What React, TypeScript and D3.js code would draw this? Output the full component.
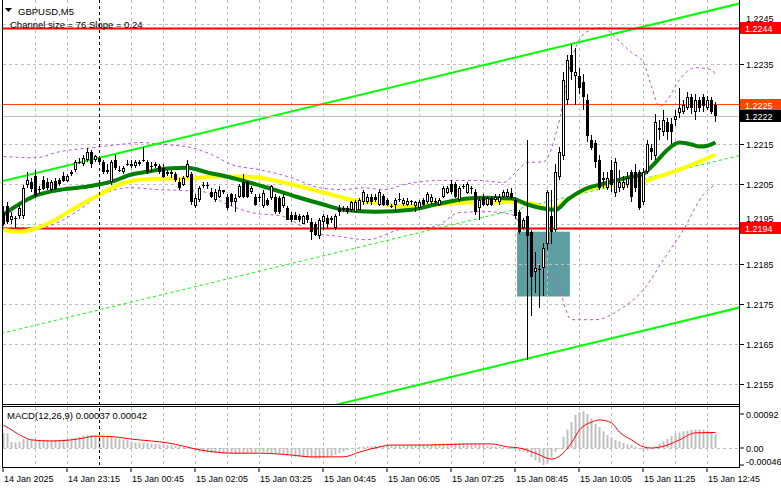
import * as d3 from 'd3'
import * as React from 'react'

// GBPUSD M5 bars, [open, high, low, close]
const candles: number[][] = [
  [1.21982, 1.21995, 1.21947, 1.21952], [1.21995, 1.22005, 1.21950, 1.21957], [1.21962, 1.21982, 1.21952, 1.21972],
  [1.21967, 1.21972, 1.21942, 1.21965], [1.21970, 1.22000, 1.21965, 1.21992], [1.21970, 1.22050, 1.21965, 1.22042],
  [1.22050, 1.22082, 1.22042, 1.22062], [1.22057, 1.22067, 1.22032, 1.22040], [1.22072, 1.22087, 1.22017, 1.22022],
  [1.22040, 1.22047, 1.22027, 1.22037], [1.22062, 1.22072, 1.22035, 1.22040], [1.22055, 1.22065, 1.22037, 1.22042],
  [1.22037, 1.22062, 1.22032, 1.22055], [1.22060, 1.22067, 1.22035, 1.22040], [1.22062, 1.22067, 1.22047, 1.22052],
  [1.22072, 1.22082, 1.22055, 1.22060], [1.22060, 1.22077, 1.22055, 1.22072], [1.22077, 1.22087, 1.22072, 1.22080],
  [1.22087, 1.22112, 1.22082, 1.22105], [1.22105, 1.22117, 1.22100, 1.22107], [1.22100, 1.22125, 1.22095, 1.22117],
  [1.22112, 1.22142, 1.22107, 1.22132], [1.22130, 1.22137, 1.22092, 1.22100], [1.22110, 1.22125, 1.22105, 1.22120],
  [1.22117, 1.22122, 1.22100, 1.22105], [1.22105, 1.22112, 1.22075, 1.22080], [1.22082, 1.22100, 1.22075, 1.22085],
  [1.22057, 1.22112, 1.22050, 1.22105], [1.22112, 1.22125, 1.22087, 1.22092], [1.22087, 1.22095, 1.22080, 1.22085],
  [1.22082, 1.22097, 1.22077, 1.22090], [1.22102, 1.22112, 1.22095, 1.22100], [1.22102, 1.22110, 1.22092, 1.22097],
  [1.22095, 1.22112, 1.22090, 1.22105], [1.22100, 1.22112, 1.22095, 1.22107], [1.22110, 1.22145, 1.22105, 1.22112],
  [1.22105, 1.22112, 1.22075, 1.22080], [1.22097, 1.22107, 1.22080, 1.22095], [1.22100, 1.22107, 1.22092, 1.22097],
  [1.22095, 1.22102, 1.22077, 1.22082], [1.22092, 1.22100, 1.22065, 1.22070], [1.22080, 1.22087, 1.22072, 1.22077],
  [1.22080, 1.22087, 1.22067, 1.22075], [1.22075, 1.22082, 1.22057, 1.22062], [1.22057, 1.22067, 1.22037, 1.22042],
  [1.22050, 1.22072, 1.22045, 1.22065], [1.22070, 1.22112, 1.22065, 1.22100], [1.22075, 1.22082, 1.22000, 1.22005],
  [1.21995, 1.22025, 1.21990, 1.22017], [1.22012, 1.22047, 1.22007, 1.22042], [1.22047, 1.22057, 1.22042, 1.22050],
  [1.22050, 1.22055, 1.22040, 1.22048], [1.22032, 1.22042, 1.22015, 1.22020], [1.22012, 1.22040, 1.22007, 1.22032],
  [1.22020, 1.22045, 1.22015, 1.22037], [1.22035, 1.22037, 1.22025, 1.22032], [1.22020, 1.22027, 1.21987, 1.21992],
  [1.22025, 1.22030, 1.21997, 1.22005], [1.22005, 1.22025, 1.21982, 1.22017], [1.22020, 1.22052, 1.22015, 1.22045],
  [1.22057, 1.22075, 1.22015, 1.22020], [1.22055, 1.22060, 1.22015, 1.22020], [1.22032, 1.22047, 1.22027, 1.22042],
  [1.22020, 1.22027, 1.21995, 1.22000], [1.22020, 1.22025, 1.22005, 1.22017], [1.21995, 1.22037, 1.21990, 1.22030],
  [1.22012, 1.22017, 1.21995, 1.22000], [1.22017, 1.22050, 1.22012, 1.22045], [1.22020, 1.22025, 1.21977, 1.21982],
  [1.22017, 1.22022, 1.21977, 1.21982], [1.21995, 1.22025, 1.21990, 1.22020], [1.21992, 1.21997, 1.21960, 1.21962],
  [1.21975, 1.21980, 1.21957, 1.21962], [1.21975, 1.21980, 1.21960, 1.21962], [1.21972, 1.21977, 1.21957, 1.21960],
  [1.21952, 1.21975, 1.21950, 1.21970], [1.21975, 1.21980, 1.21955, 1.21960], [1.21957, 1.21967, 1.21912, 1.21932],
  [1.21950, 1.21957, 1.21920, 1.21925], [1.21920, 1.21967, 1.21915, 1.21962], [1.21957, 1.21977, 1.21937, 1.21970],
  [1.21967, 1.21975, 1.21942, 1.21950], [1.21967, 1.21972, 1.21955, 1.21960], [1.21942, 1.21977, 1.21937, 1.21970],
  [1.21992, 1.22000, 1.21972, 1.21980], [1.21992, 1.21997, 1.21980, 1.21985], [1.21992, 1.21997, 1.21977, 1.21980],
  [1.21987, 1.22010, 1.21982, 1.22005], [1.21982, 1.22012, 1.21980, 1.22007], [1.21987, 1.22017, 1.21985, 1.22012],
  [1.22005, 1.22037, 1.22000, 1.22032], [1.22005, 1.22025, 1.22002, 1.22020], [1.22020, 1.22025, 1.22000, 1.22005],
  [1.22020, 1.22025, 1.22007, 1.22012], [1.22000, 1.22037, 1.21995, 1.22032], [1.22022, 1.22027, 1.21995, 1.22000],
  [1.22012, 1.22017, 1.21995, 1.22000], [1.21997, 1.22002, 1.21992, 1.21995], [1.22000, 1.22017, 1.21982, 1.22012],
  [1.22012, 1.22030, 1.22007, 1.22013], [1.22002, 1.22017, 1.21997, 1.22012], [1.22000, 1.22015, 1.21995, 1.22010],
  [1.22007, 1.22012, 1.22000, 1.22008], [1.21997, 1.22010, 1.21982, 1.22005], [1.21992, 1.22012, 1.21987, 1.22007],
  [1.22012, 1.22017, 1.21995, 1.22000], [1.22007, 1.22032, 1.22002, 1.22025], [1.22005, 1.22025, 1.22000, 1.22020],
  [1.22007, 1.22015, 1.22000, 1.22008], [1.22000, 1.22017, 1.21995, 1.22012], [1.22020, 1.22047, 1.22015, 1.22042],
  [1.22030, 1.22047, 1.22025, 1.22042], [1.22052, 1.22062, 1.22027, 1.22032], [1.22052, 1.22057, 1.22015, 1.22020],
  [1.22012, 1.22047, 1.22007, 1.22042], [1.22047, 1.22052, 1.22040, 1.22046], [1.22030, 1.22057, 1.22025, 1.22052],
  [1.22042, 1.22047, 1.22027, 1.22041], [1.22032, 1.22040, 1.21975, 1.21980], [1.21992, 1.22020, 1.21962, 1.22012],
  [1.22020, 1.22025, 1.21995, 1.22000], [1.22000, 1.22022, 1.21995, 1.22017], [1.22017, 1.22022, 1.21995, 1.22000],
  [1.22012, 1.22025, 1.22007, 1.22020], [1.22005, 1.22025, 1.22000, 1.22020], [1.22020, 1.22037, 1.22015, 1.22032],
  [1.22020, 1.22040, 1.22015, 1.22032], [1.22030, 1.22042, 1.22012, 1.22017], [1.22012, 1.22020, 1.21965, 1.21970],
  [1.21982, 1.21987, 1.21927, 1.21932], [1.21942, 1.21967, 1.21937, 1.21962], [1.21970, 1.22162, 1.21612, 1.21920],
  [1.21932, 1.21937, 1.21720, 1.21820], [1.21832, 1.21880, 1.21780, 1.21842], [1.21837, 1.21850, 1.21742, 1.21839],
  [1.21842, 1.21905, 1.21770, 1.21892], [1.21900, 1.22037, 1.21887, 1.22032], [1.21970, 1.22037, 1.21900, 1.21932],
  [1.21937, 1.22100, 1.21932, 1.22082], [1.22070, 1.22145, 1.22062, 1.22132], [1.22120, 1.22332, 1.22112, 1.22312],
  [1.22262, 1.22375, 1.22250, 1.22362], [1.22375, 1.22400, 1.22312, 1.22330], [1.22320, 1.22392, 1.22250, 1.22332],
  [1.22320, 1.22342, 1.22275, 1.22292], [1.22305, 1.22325, 1.22237, 1.22270], [1.22262, 1.22275, 1.22157, 1.22170],
  [1.22162, 1.22175, 1.22137, 1.22142], [1.22155, 1.22162, 1.22092, 1.22105], [1.22112, 1.22125, 1.22037, 1.22042],
  [1.22067, 1.22082, 1.22042, 1.22062], [1.22042, 1.22082, 1.22037, 1.22067], [1.22087, 1.22112, 1.22032, 1.22050],
  [1.22030, 1.22117, 1.22020, 1.22105], [1.22042, 1.22087, 1.22032, 1.22055], [1.22042, 1.22072, 1.22037, 1.22055],
  [1.22050, 1.22082, 1.22042, 1.22067], [1.22080, 1.22087, 1.22005, 1.22020], [1.22082, 1.22100, 1.22032, 1.22042],
  [1.22080, 1.22087, 1.21987, 1.21992], [1.22005, 1.22092, 1.22000, 1.22080], [1.22080, 1.22162, 1.22075, 1.22150],
  [1.22142, 1.22150, 1.22112, 1.22130], [1.22120, 1.22225, 1.22112, 1.22205], [1.22187, 1.22212, 1.22162, 1.22192],
  [1.22180, 1.22237, 1.22170, 1.22212], [1.22205, 1.22217, 1.22162, 1.22180], [1.22200, 1.22217, 1.22150, 1.22182],
  [1.22212, 1.22237, 1.22195, 1.22220], [1.22230, 1.22292, 1.22217, 1.22242], [1.22232, 1.22262, 1.22225, 1.22250],
  [1.22242, 1.22280, 1.22237, 1.22270], [1.22270, 1.22275, 1.22225, 1.22242], [1.22232, 1.22275, 1.22212, 1.22262],
  [1.22262, 1.22270, 1.22232, 1.22242], [1.22270, 1.22277, 1.22232, 1.22245], [1.22242, 1.22272, 1.22237, 1.22262],
  [1.22262, 1.22270, 1.22225, 1.22232], [1.22250, 1.22255, 1.22207, 1.22220],
]

// moving averages and bands, [bar, price]
const greenMa: number[][] = [
  [0, 1.21975], [8, 1.22022], [13, 1.22035], [21, 1.22045], [27, 1.22057], [32, 1.22075], [36, 1.22082],
  [41, 1.2209], [46, 1.22092], [51, 1.2208], [57, 1.22067], [65, 1.22045], [73, 1.2202], [80, 1.22],
  [85, 1.21987], [93, 1.21982], [102, 1.21987], [108, 1.22], [116, 1.22015], [120, 1.22017], [127, 1.22015],
  [131, 1.22], [135, 1.2199], [138, 1.21987], [141, 1.22012], [145, 1.22037], [150, 1.22052], [156, 1.22067],
  [160, 1.22077], [163, 1.22105], [166, 1.22137], [169, 1.22155], [172, 1.2215], [174, 1.22145], [176, 1.22147],
  [178, 1.22155],
]
const yellowMa: number[][] = [
  [0, 1.21937], [4, 1.21932], [8, 1.2194], [13, 1.21962], [18, 1.21992], [24, 1.22025], [29, 1.2205],
  [34, 1.22062], [41, 1.22065], [46, 1.22065], [53, 1.2207], [59, 1.2207], [64, 1.22067], [70, 1.22055],
  [80, 1.2203], [87, 1.22012], [93, 1.22005], [100, 1.21995], [108, 1.22], [116, 1.22005], [123, 1.22005],
  [128, 1.22007], [133, 1.22], [136, 1.2199], [138, 1.21995], [144, 1.2203], [150, 1.22047], [155, 1.2205],
  [160, 1.22057], [163, 1.22067], [169, 1.22087], [174, 1.22107], [178, 1.22125],
]
const bandUpper: number[][] = [
  [0, 1.2212], [8, 1.22117], [14, 1.22132], [22, 1.22142], [29, 1.2215], [34, 1.22155], [40, 1.2215],
  [47, 1.22142], [52, 1.22125], [57, 1.221], [64, 1.22087], [72, 1.22067], [79, 1.22042], [85, 1.22037],
  [90, 1.22042], [95, 1.22037], [101, 1.22052], [109, 1.2206], [119, 1.2206], [125, 1.22055], [128, 1.2208],
  [131, 1.22105], [135, 1.22107], [139, 1.22212], [142, 1.22362], [144, 1.22412], [147, 1.22437], [150, 1.22442],
  [153, 1.22417], [157, 1.2238], [160, 1.22355], [162, 1.22295], [164, 1.22245], [166, 1.22262], [169, 1.22312],
  [173, 1.22342], [177, 1.22337], [178, 1.22325],
]
const bandLower: number[][] = [
  [0, 1.21942], [9, 1.21942], [14, 1.21957], [19, 1.21987], [24, 1.22022], [32, 1.22042], [39, 1.22037],
  [45, 1.22035], [50, 1.22032], [55, 1.22005], [62, 1.2198], [70, 1.2197], [77, 1.21932], [84, 1.2192],
  [91, 1.21912], [99, 1.21937], [108, 1.21945], [114, 1.2198], [121, 1.21982], [127, 1.21975], [130, 1.21937],
  [134, 1.21837], [138, 1.21812], [142, 1.21712], [148, 1.21712], [154, 1.21737], [160, 1.21787], [165, 1.21862],
  [170, 1.21937], [175, 1.22025], [178, 1.2205],
]

// MACD(12,26,9) histogram per bar and signal line
const macdHist: number[] = [
  41, 40, 16, 15, 17, 24, 24, 23, 21, 22, 22, 21, 21, 22, 22, 23, 24, 26, 27, 30,
  33, 35, 35, 34, 33, 31, 30, 29, 27, 25, 23, 21, 18, 15, 14, 14, 13, 12, 11, 10,
  9, 8, 7, 6, 5, 3, 1, -3, -8, -11, -12, -12, -13, -14, -14, -15, -15, -15, -16, -16,
  -15, -14, -13, -12, -10, -11, -12, -13, -14, -15, -16, -20, -22, -24, -24, -25, -26, -28, -29, -28,
  -27, -25, -22, -18, -14, -10, -6, -2, 1, 3, 4, 5, 5, 6, 6, 7, 7, 8, 8, 8,
  8, 8, 9, 9, 9, 10, 10, 10, 11, 11, 12, 12, 12, 13, 13, 12, 12, 11, 10, 9,
  8, 6, 5, 4, 3, 2, 0, -2, -4, -8, -10, -14, -25, -33, -40, -46, -42, -25, -10, -2,
  30, 50, 70, 90, 97, 100, 92, 80, 65, 57, 45, 35, 28, 22, 18, 14, 10, 8, 3, -3,
  -8, -6, -2, 5, 12, 18, 25, 32, 38, 42, 45, 47, 49, 50, 50, 50, 48, 42, 37,
].map(v => v / 100000)
const macdSignal: number[][] = [
  [0, 62], [2, 49], [5, 30], [7, 22], [12, 19], [17, 22], [20, 27], [23, 32], [28, 30], [32, 24], [37, 19],
  [41, 14], [45, 5], [49, -5], [53, -11], [57, -14], [64, -14], [72, -19], [77, -24], [85, -24], [89, -11],
  [94, 3], [97, 8], [106, 8], [116, 11], [122, 11], [126, 3], [129, 0], [133, -14], [137, -30], [139, -22],
  [142, 14], [144, 49], [147, 70], [149, 76], [152, 68], [154, 43], [157, 22], [160, 3], [162, 0], [166, 8],
  [169, 22], [173, 41], [178, 42],
].map(([b, v]) => [b, v / 100000])

const priceTicks = [1.2245, 1.2235, 1.2225, 1.2215, 1.2205, 1.2195, 1.2185, 1.2175, 1.2165, 1.2155]
const macdTicks = [0.00092, 0, -0.00046]
const macdTickLabels = ['0.00092', '0.00', '-0.00046']
const timeLabels = [
  '14 Jan 2025', '14 Jan 23:15', '15 Jan 00:45', '15 Jan 02:05', '15 Jan 03:25', '15 Jan 04:45',
  '15 Jan 06:05', '15 Jan 07:25', '15 Jan 08:45', '15 Jan 10:05', '15 Jan 11:25', '15 Jan 12:45',
]
const timeLabelBars = [0, 16, 32, 48, 64, 80, 96, 112, 128, 144, 160, 176]
const daySeparatorBar = 24

// horizontal levels: price, colour, line width, label box colour
const levels = [
  { price: 1.2244, color: '#ff0000', width: 2, box: '#ff0000' },
  { price: 1.2225, color: '#ff4500', width: 1, box: '#ff4500' },
  { price: 1.2222, color: '#c0c0c0', width: 1, box: '#000000' },
  { price: 1.2194, color: '#ff0000', width: 2, box: '#ff0000' },
]
// regression channel: upper line anchors and channel size
const channelUpper = [[0, 1.22059], [178, 1.22488]]
const channelSize = 0.0076
// shaded zone: bar range and price range
const zone = { from: 128.4, to: 141.6, top: 1.21932, bottom: 1.2177 }

const FONT = '"Liberation Sans", Arial, sans-serif'

export default function App() {
  const x = d3.scaleLinear().domain([0, 178]).range([3.5, 715.5])
  const y = d3.scaleLinear().domain([1.2155, 1.2245]).range([384.5, 24.5])
  const my = d3.scaleLinear().domain([-0.00046, 0.00092]).range([465, 414])

  const lineP = d3.line<number[]>().x(d => x(d[0])).y(d => y(d[1])).curve(d3.curveMonotoneX)
  const lineM = d3.line<number[]>().x(d => x(d[0])).y(d => my(d[1])).curve(d3.curveMonotoneX)

  const slope = (channelUpper[1][1] - channelUpper[0][1]) / (channelUpper[1][0] - channelUpper[0][0])
  const chan = (b: number, off: number) => channelUpper[0][1] + slope * (b - channelUpper[0][0]) - off
  const bL = -2, bR = 186

  const gridBars = d3.range(8, 180, 8).filter(b => b !== daySeparatorBar)
  const boxY = (p: number) => Math.round(y(p)) - 6

  // tick labels sitting under a level box are nudged just above it; fully covered ones stay hidden
  const tickLabelY = (p: number) => {
    const ty = y(p) + 3.5
    const hit = levels.find(l => Math.abs(y(l.price) - y(p)) < 12)
    if (!hit) return { ty, show: true }
    if (Math.abs(hit.price - p) < 0.00005) return { ty, show: false }
    return { ty: boxY(hit.price) - 0.5, show: true }
  }

  return (
    <div style={{ position: 'fixed', left: 0, top: 0 }}>
      <svg width={781} height={489} style={{ display: 'block', background: '#fff' }}>
        <defs>
          <clipPath id="main"><rect x={3} y={0} width={736} height={404} /></clipPath>
          <clipPath id="sub"><rect x={3} y={407} width={736} height={60} /></clipPath>
        </defs>

        <g clipPath="url(#main)">
          <rect x={x(zone.from)} y={y(zone.top)} width={x(zone.to) - x(zone.from)}
            height={y(zone.bottom) - y(zone.top)} fill="#5f9ea0" />
          {priceTicks.map(p => (
            <line key={p} x1={3} x2={739} y1={y(p)} y2={y(p)} stroke="#c0c0c0" strokeDasharray="3,3" />
          ))}
          {gridBars.map(b => (
            <line key={b} x1={x(b)} x2={x(b)} y1={0} y2={404} stroke="#c0c0c0" strokeDasharray="3,3" />
          ))}
          <path d={lineP(bandUpper)!} fill="none" stroke="#ba55d3" strokeDasharray="3,3" />
          <path d={lineP(bandLower)!} fill="none" stroke="#ba55d3" strokeDasharray="3,3" />
          <line x1={x(bL)} x2={x(bR)} y1={y(chan(bL, 0))} y2={y(chan(bR, 0))} stroke="#00ff00" strokeWidth={2} />
          <line x1={x(bL)} x2={x(bR)} y1={y(chan(bL, channelSize / 2))} y2={y(chan(bR, channelSize / 2))}
            stroke="#00ff00" strokeDasharray="3,3" />
          <line x1={x(bL)} x2={x(bR)} y1={y(chan(bL, channelSize))} y2={y(chan(bR, channelSize))} stroke="#00ff00" strokeWidth={2} />
          {levels.map(l => (
            <line key={l.price} x1={3} x2={739} y1={y(l.price)} y2={y(l.price)} stroke={l.color} strokeWidth={l.width} />
          ))}
          <path d={lineP(yellowMa)!} fill="none" stroke="#ffff00" strokeWidth={4} />
          <path d={lineP(greenMa)!} fill="none" stroke="#008000" strokeWidth={4} />
          {candles.map(([o, h, l, c], i) => {
            const cx = x(i)
            const top = Math.round(y(Math.max(o, c)))
            const bot = Math.round(y(Math.min(o, c)))
            const up = c > o
            return (
              <g key={i}>
                <line x1={cx} x2={cx} y1={Math.round(y(h))} y2={Math.round(y(l))} stroke="#000" />
                {bot - top < 2
                  ? <line x1={cx - 1.5} x2={cx + 1.5} y1={top + 0.5} y2={top + 0.5} stroke="#000" />
                  : up
                    ? <rect x={cx - 1} y={top + 0.5} width={2} height={bot - top - 1} fill="#fff" stroke="#000" />
                    : <rect x={cx - 1.5} y={top} width={3} height={bot - top} fill="#000" />}
              </g>
            )
          })}
        </g>

        <g clipPath="url(#sub)">
          {gridBars.map(b => (
            <line key={b} x1={x(b)} x2={x(b)} y1={407} y2={467} stroke="#c0c0c0" strokeDasharray="3,3" />
          ))}
          <line x1={3} x2={739} y1={Math.round(my(0)) + 0.5} y2={Math.round(my(0)) + 0.5} stroke="#c0c0c0" strokeDasharray="3,3" />
          {macdHist.map((v, i) => (
            <rect key={i} x={x(i) - 1} width={2} y={Math.min(my(v), my(0))}
              height={Math.max(1, Math.abs(my(v) - my(0)))} fill="#c0c0c0" />
          ))}
          <path d={lineM(macdSignal)!} fill="none" stroke="#ff0000" />
        </g>

        {/* day separator */}
        <line x1={x(daySeparatorBar)} x2={x(daySeparatorBar)} y1={0} y2={467} stroke="#000" strokeDasharray="3,3" />

        {/* frames */}
        <line x1={2.5} x2={2.5} y1={0} y2={467.5} stroke="#000" />
        <line x1={739.5} x2={739.5} y1={0} y2={467.5} stroke="#000" />
        <line x1={2} x2={740} y1={404.5} y2={404.5} stroke="#000" />
        <line x1={2} x2={740} y1={406.5} y2={406.5} stroke="#000" />
        <line x1={2} x2={740} y1={467.5} y2={467.5} stroke="#000" />

        {/* price axis */}
        {priceTicks.map(p => {
          const { ty, show } = tickLabelY(p)
          return (
            <g key={p}>
              <line x1={740} x2={744} y1={y(p)} y2={y(p)} stroke="#000" />
              {show && <text x={746} y={ty} fontFamily={FONT} fontSize={9} fill="#000">{p.toFixed(4)}</text>}
            </g>
          )
        })}
        {levels.map(l => (
          <g key={l.price}>
            <rect x={740} y={boxY(l.price)} width={41} height={12} fill={l.box} />
            <text x={745} y={Math.round(y(l.price)) + 3.5} fontFamily={FONT} fontSize={9} fill="#fff">{l.price.toFixed(4)}</text>
          </g>
        ))}

        {/* macd axis */}
        {macdTicks.map((v, i) => (
          <g key={v}>
            <line x1={740} x2={744} y1={my(v)} y2={my(v)} stroke="#000" />
            <text x={746} y={my(v) + (i === 2 ? 0 : 3.5)} fontFamily={FONT} fontSize={9} fill="#000">{macdTickLabels[i]}</text>
          </g>
        ))}

        {/* time axis */}
        {timeLabels.map((t, i) => {
          const tx = x(timeLabelBars[i]) - 0.5
          return (
            <g key={t}>
              <line x1={tx} x2={tx} y1={468} y2={472} stroke="#000" />
              <text x={tx + 1} y={482} fontFamily={FONT} fontSize={9} fill="#000">{t}</text>
            </g>
          )
        })}

        {/* captions */}
        <path d="M5,8 L12,8 L8.5,12 Z" fill="#000" />
        <text x={18} y={15} fontFamily={FONT} fontSize={9.5} fill="#000">GBPUSD,M5</text>
        <text x={10} y={28} fontFamily={FONT} fontSize={9.5} fill="#000">Channel size = 76 Slope = 0.24</text>
        <text x={7} y={419} fontFamily={FONT} fontSize={9.5} fill="#000">MACD(12,26,9) 0.00037 0.00042</text>
      </svg>
    </div>
  )
}
